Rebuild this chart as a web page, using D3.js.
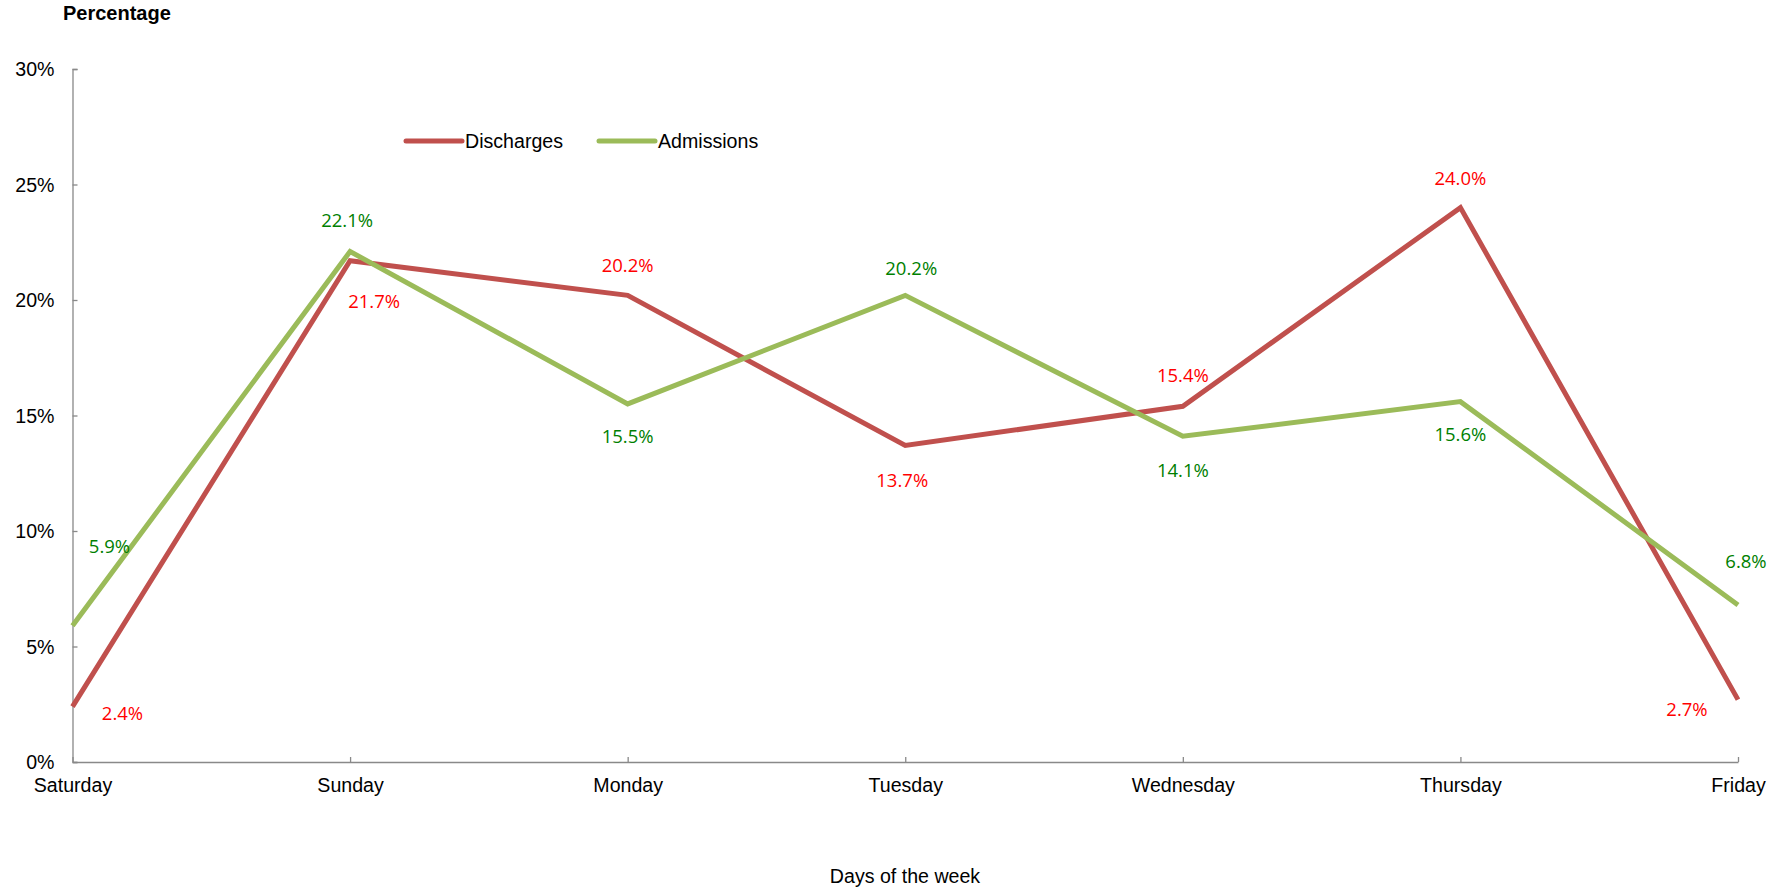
<!DOCTYPE html>
<html>
<head>
<meta charset="utf-8">
<script src="https://cdn.jsdelivr.net/npm/d3@7"></script>
<style>
  html, body { margin: 0; padding: 0; background: #fff; }
  svg { display: block; }
  .axis-text { font-family: "Liberation Sans", Arial, sans-serif; font-size: 19.6px; fill: #000; }
  .data-label { font-family: "Open Sans", "Noto Sans", sans-serif; font-size: 18.5px; }
</style>
</head>
<body>
<div id="chart"></div>
<script>
const days = ["Saturday", "Sunday", "Monday", "Tuesday", "Wednesday", "Thursday", "Friday"];
const discharges = [2.4, 21.7, 20.2, 13.7, 15.4, 24.0, 2.7];
const admissions = [5.9, 22.1, 15.5, 20.2, 14.1, 15.6, 6.8];
const yTicks = [0, 5, 10, 15, 20, 25, 30];

// label offsets from each point (dx, dy to text middle)
const dischargeLabelOffsets = [[50, 7], [24, 41], [0, -30], [-3, 35], [0, -31], [0, -29], [-51, 10]];
const admissionLabelOffsets = [[37, -79], [-3, -31], [0, 33], [6, -27], [0, 34], [0, 33], [8, -43]];

const width = 1785;
const height = 890;
const marginLeft = 72.5;
const marginRight = 47;
const marginTop = 69;
const marginBottom = 128;

const series = [
  { name: "Discharges", values: discharges, color: "#c0504d", labelColor: "#ff0000", offsets: dischargeLabelOffsets },
  { name: "Admissions", values: admissions, color: "#9bbb59", labelColor: "#008000", offsets: admissionLabelOffsets },
];

const svg = d3.select("#chart").append("svg")
  .attr("width", width)
  .attr("height", height)
  .attr("viewBox", [0, 0, width, height]);

const x = d3.scalePoint().domain(days).range([marginLeft, width - marginRight]);
const y = d3.scaleLinear().domain([0, 30]).range([height - marginBottom, marginTop]);

// y axis
const gY = svg.append("g").attr("transform", `translate(${marginLeft},0)`);
gY.call(d3.axisRight(y).tickValues(yTicks).tickSize(5).tickFormat((d) => d + "%"));
gY.attr("font-size", null).attr("font-family", null);
gY.select(".domain").attr("stroke", "#898989").attr("stroke-width", 1.3);
gY.selectAll(".tick line").attr("stroke", "#898989").attr("stroke-width", 1.3);
gY.selectAll(".tick text")
  .attr("class", "axis-text")
  .attr("text-anchor", "end")
  .attr("x", -18)
  .attr("dy", "0.35em");

// x axis
const gX = svg.append("g").attr("transform", `translate(0,${height - marginBottom})`);
gX.call(d3.axisTop(x).tickSize(5).tickSizeOuter(0).tickFormat(() => ""));
gX.attr("font-size", null).attr("font-family", null);
gX.select(".domain").attr("stroke", "#898989").attr("stroke-width", 1.3);
gX.selectAll(".tick line").attr("stroke", "#898989").attr("stroke-width", 1.3);
gX.selectAll(".tick")
  .append("text")
  .attr("class", "axis-text")
  .attr("text-anchor", "middle")
  .attr("y", 30)
  .text((d) => d);

// titles
svg.append("text")
  .attr("class", "axis-text")
  .attr("x", 63)
  .attr("y", 20)
  .attr("font-weight", "bold")
  .style("font-size", "20px")
  .text("Percentage");

svg.append("text")
  .attr("class", "axis-text")
  .attr("x", 905)
  .attr("y", 883)
  .attr("text-anchor", "middle")
  .text("Days of the week");

// lines
const line = d3.line()
  .x((d, i) => x(days[i]))
  .y((d) => y(d));

const gSeries = svg.append("g").attr("class", "series-g");
series.forEach((s) => {
  gSeries.append("path")
    .attr("d", line(s.values))
    .attr("fill", "none")
    .attr("stroke", s.color)
    .attr("stroke-width", 5)
    .attr("stroke-linejoin", "miter")
    .attr("stroke-linecap", "butt");
});

// data labels
series.forEach((s) => {
  svg.append("g")
    .selectAll("text")
    .data(s.values)
    .join("text")
    .attr("class", "data-label")
    .attr("fill", s.labelColor)
    .attr("text-anchor", "middle")
    .attr("dy", "0.35em")
    .attr("x", (d, i) => x(days[i]) + s.offsets[i][0])
    .attr("y", (d, i) => y(d) + s.offsets[i][1])
    .text((d) => d.toFixed(1) + "%");
});

// legend
const legendItems = [
  { s: series[0], x0: 406 },
  { s: series[1], x0: 599 },
];
const gLegend = svg.append("g").attr("transform", "translate(0,141)");
legendItems.forEach((item) => {
  gLegend.append("line")
    .attr("x1", item.x0)
    .attr("x2", item.x0 + 56)
    .attr("stroke", item.s.color)
    .attr("stroke-width", 5)
    .attr("stroke-linecap", "round");
  gLegend.append("text")
    .attr("class", "axis-text")
    .attr("x", item.x0 + 59)
    .attr("dy", "0.35em")
    .text(item.s.name);
});
</script>
</body>
</html>
